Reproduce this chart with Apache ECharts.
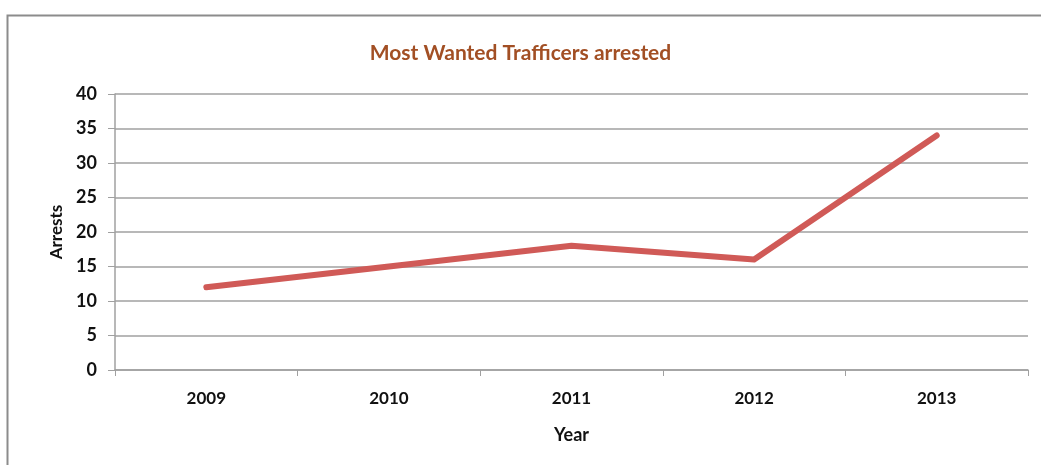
<!DOCTYPE html>
<html><head><meta charset="utf-8">
<script src="https://cdn.jsdelivr.net/npm/echarts@6/dist/echarts.min.js"></script>
<style>html,body{margin:0;padding:0;background:#fff}#c{width:1041px;height:465px}</style>
</head><body><div id="c"></div>
<script>
const years = ['2009','2010','2011','2012','2013'];
const arrests = [12, 15, 18, 16, 34];
const yTicks = [0, 5, 10, 15, 20, 25, 30, 35, 40];

const chart = echarts.init(document.getElementById('c'));
const font = 'Lato, "Open Sans", sans-serif';
chart.setOption({
  animation: false,
  backgroundColor: '#fff',
  graphic: [{
    type: 'rect', left: 5, top: 13, shape: {width: 1100, height: 500},
    style: {fill: 'none', stroke: '#8c8c8c', lineWidth: 2}, silent: true
  }],
  title: {
    text: 'Most Wanted Trafficers arrested', left: 'center', top: 38,
    textStyle: {fontFamily: font, fontSize: 21, fontWeight: 'bold', color: '#a24f24'}
  },
  grid: {left: 115, right: 13, top: 94, bottom: 95},
  xAxis: {
    type: 'category', data: years, boundaryGap: true,
    name: 'Year', nameLocation: 'middle', nameGap: 56,
    nameTextStyle: {fontFamily: font, fontSize: 18, fontWeight: 'bold', color: '#111'},
    axisLine: {lineStyle: {color: '#a0a0a0', width: 1.5}},
    axisTick: {show: true, length: 6, lineStyle: {color: '#a0a0a0'}},
    axisLabel: {fontFamily: font, fontSize: 17, fontWeight: 'bold', color: '#111', margin: 20}
  },
  yAxis: {
    type: 'value', min: yTicks[0], max: yTicks[yTicks.length-1], interval: 5,
    name: 'Arrests', nameLocation: 'middle', nameGap: 48, nameRotate: 90,
    nameTextStyle: {fontFamily: font, fontSize: 17, fontWeight: 'bold', color: '#111'},
    axisLine: {show: true, lineStyle: {color: '#a0a0a0', width: 1.5}},
    axisTick: {show: true, length: 7, lineStyle: {color: '#a0a0a0'}},
    axisLabel: {fontFamily: font, fontSize: 18, fontWeight: 'bold', color: '#111', margin: 18},
    splitLine: {lineStyle: {color: '#a0a0a0', width: 1.5}}
  },
  series: [{
    type: 'line', data: arrests, symbol: 'none',
    lineStyle: {color: '#d05a57', width: 6, cap: 'round', join: 'round'}
  }]
});
</script></body></html>
